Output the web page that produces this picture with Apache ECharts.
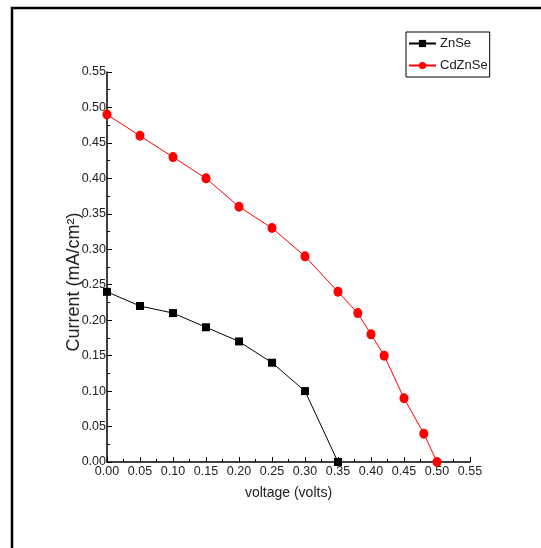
<!DOCTYPE html>
<html>
<head>
<meta charset="utf-8">
<script src="https://cdn.jsdelivr.net/npm/echarts@6/dist/echarts.min.js"></script>
<style>
  html, body { margin: 0; padding: 0; background: #fff; }
  #main { width: 541px; height: 548px; }
</style>
</head>
<body>
<div id="main"></div>
<script>
// voltage (V) and current density (mA/cm2)
var znseV = [0.00, 0.05, 0.10, 0.15, 0.20, 0.25, 0.30, 0.35];
var znseI = [0.24, 0.22, 0.21, 0.19, 0.17, 0.14, 0.10, 0.00];
var cdznseV = [0.00, 0.05, 0.10, 0.15, 0.20, 0.25, 0.30, 0.35, 0.38, 0.40, 0.42, 0.45, 0.48, 0.50];
var cdznseI = [0.49, 0.46, 0.43, 0.40, 0.36, 0.33, 0.29, 0.24, 0.21, 0.18, 0.15, 0.09, 0.04, 0.00];

var fnt = '"Liberation Sans", Arial, sans-serif';

function pairs(xs, ys) {
    var out = [];
    for (var i = 0; i < xs.length; i++) out.push([xs[i], ys[i]]);
    return out;
}

function axisCfg(name, gap, nameStyle, labelMargin) {
    return {
        type: 'value',
        min: 0,
        max: 0.55,
        interval: 0.05,
        name: name,
        nameLocation: 'middle',
        nameGap: gap,
        nameMoveOverlap: false,
        nameTextStyle: nameStyle,
        axisLine: { show: true, onZero: false, lineStyle: { color: '#000', width: 1.5 } },
        axisTick: { show: true, inside: true, length: 5, lineStyle: { color: '#000' } },
        minorTick: { show: true, splitNumber: 2, length: 3, lineStyle: { color: '#000' } },
        splitLine: { show: false },
        axisLabel: {
            color: '#222',
            fontSize: 12.5,
            fontFamily: fnt,
            margin: labelMargin,
            formatter: function (v) { return v.toFixed(2); }
        }
    };
}

var chart = echarts.init(document.getElementById('main'), null, { renderer: 'canvas' });

var option = {
    backgroundColor: '#fff',
    animation: false,
    graphic: [{
        type: 'rect',
        shape: { x: 12, y: 8, width: 700, height: 700 },
        style: { fill: 'none', stroke: '#000', lineWidth: 2.5 }
    }],
    grid: { left: 107, right: 71, top: 72, bottom: 86 },
    legend: {
        left: 406,
        top: 32,
        orient: 'vertical',
        itemWidth: 27,
        itemHeight: 9,
        itemGap: 9,
        padding: [5, 2, 5, 2],
        borderColor: '#000',
        borderWidth: 1,
        textStyle: { color: '#222', fontSize: 13, fontFamily: fnt, padding: [0, 0, 0, -1] },
        data: ['ZnSe', 'CdZnSe']
    },
    xAxis: axisCfg('voltage (volts)', 24,
        { color: '#222', fontSize: 14, fontFamily: fnt }, 3),
    yAxis: axisCfg('Current (mA/cm\u00b2)', 24,
        { color: '#222', fontSize: 18, fontFamily: fnt, padding: [0, 30, 0, 0] }, 1),
    series: [{
        name: 'ZnSe',
        type: 'line',
        data: pairs(znseV, znseI),
        symbol: 'rect',
        symbolSize: 8,
        itemStyle: { color: '#000' },
        lineStyle: { color: '#000', width: 1 }
    }, {
        name: 'CdZnSe',
        type: 'line',
        data: pairs(cdznseV, cdznseI),
        symbol: 'circle',
        symbolSize: [9, 10],
        itemStyle: { color: '#ff0000' },
        lineStyle: { color: '#ff0000', width: 1 }
    }]
};

chart.setOption(option);
</script>
</body>
</html>
